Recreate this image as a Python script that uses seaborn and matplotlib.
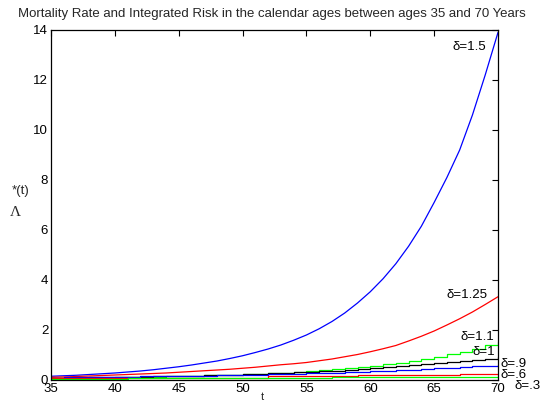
import numpy as np
import pandas as pd
import matplotlib
matplotlib.use("Agg")
import matplotlib.pyplot as plt
import seaborn as sns

ages = list(range(35, 71))

d150 = [0.15, 0.17, 0.19, 0.22, 0.25, 0.28, 0.32, 0.36, 0.41, 0.47, 0.53, 0.60, 0.68, 0.76,
        0.86, 0.97, 1.10, 1.24, 1.40, 1.59, 1.80, 2.05, 2.34, 2.68, 3.08, 3.53, 4.05, 4.65,
        5.35, 6.15, 7.10, 8.10, 9.20, 10.6, 12.2, 13.9]
d125 = [0.11, 0.12, 0.14, 0.16, 0.18, 0.20, 0.22, 0.24, 0.26, 0.28, 0.31, 0.34, 0.37, 0.40,
        0.43, 0.47, 0.51, 0.56, 0.61, 0.65, 0.70, 0.77, 0.84, 0.93, 1.02, 1.13, 1.25, 1.38,
        1.56, 1.75, 1.96, 2.20, 2.45, 2.72, 3.02, 3.33]
d110 = [0.06, 0.07, 0.08, 0.09, 0.10, 0.11, 0.12, 0.13, 0.14, 0.15, 0.17, 0.18, 0.19, 0.20,
        0.22, 0.24, 0.26, 0.28, 0.30, 0.33, 0.36, 0.39, 0.43, 0.47, 0.52, 0.57, 0.63, 0.69,
        0.76, 0.84, 0.93, 1.03, 1.14, 1.26, 1.39, 1.53]
d100 = [0.08, 0.09, 0.10, 0.11, 0.11, 0.12, 0.13, 0.14, 0.15, 0.16, 0.17, 0.18, 0.19, 0.20,
        0.22, 0.24, 0.26, 0.27, 0.29, 0.31, 0.33, 0.35, 0.38, 0.41, 0.44, 0.47, 0.51, 0.55,
        0.59, 0.64, 0.68, 0.72, 0.76, 0.81, 0.86, 0.92]
d090 = [0.10, 0.11, 0.11, 0.12, 0.13, 0.14, 0.14, 0.15, 0.15, 0.16, 0.17, 0.17, 0.18, 0.19,
        0.20, 0.21, 0.22, 0.23, 0.24, 0.25, 0.27, 0.28, 0.30, 0.31, 0.33, 0.35, 0.37, 0.39,
        0.41, 0.44, 0.47, 0.49, 0.52, 0.55, 0.58, 0.61]
d060 = [0.10, 0.10, 0.10, 0.10, 0.10, 0.10, 0.10, 0.10, 0.10, 0.10, 0.10, 0.10, 0.10, 0.10,
        0.10, 0.10, 0.10, 0.16, 0.16, 0.16, 0.16, 0.16, 0.16, 0.16, 0.20, 0.20, 0.20, 0.20,
        0.20, 0.20, 0.20, 0.20, 0.26, 0.26, 0.26, 0.26]
d030 = [0.05, 0.05, 0.05, 0.06, 0.06, 0.06, 0.07, 0.07, 0.07, 0.08, 0.08, 0.08, 0.08, 0.09,
        0.09, 0.09, 0.09, 0.10, 0.10, 0.10, 0.10, 0.10, 0.11, 0.11, 0.11, 0.11, 0.11, 0.12,
        0.12, 0.12, 0.12, 0.12, 0.13, 0.13, 0.13, 0.13]

series = [("δ=1.5", d150, "#0000ff", False),
          ("δ=1.25", d125, "#ff0000", False),
          ("δ=1.1", d110, "#00ff00", True),
          ("δ=1", d100, "#000000", True),
          ("δ=.9", d090, "#0000ff", True),
          ("δ=.6", d060, "#ff0000", True),
          ("δ=.3", d030, "#00ff00", True)]

label_pos = {"δ=1.5": (66.4, 13.3), "δ=1.25": (66.0, 3.4), "δ=1.1": (67.1, 1.7),
             "δ=1": (68.0, 1.12), "δ=.9": (70.2, 0.65), "δ=.6": (70.2, 0.22),
             "δ=.3": (71.3, -0.25)}

sns.set_theme(style="white")
plt.rcParams["font.family"] = ["Liberation Sans", "DejaVu Sans"]
plt.rcParams["xtick.direction"] = "in"
plt.rcParams["ytick.direction"] = "in"

fig = plt.figure(figsize=(5.44, 4.0), dpi=100)
ax = fig.add_axes([0.0938, 0.05, 0.8216, 0.875])

for name, vals, col, step in series:
    df = pd.DataFrame({"t": ages, "v": vals})
    sns.lineplot(data=df, x="t", y="v", ax=ax, color=col, linewidth=0.9,
                 drawstyle="steps-post" if step else "default", legend=False)

for name, vals, col, step in series:
    x, y = label_pos[name]
    ax.text(x, y, name, fontsize=9.5, ha="left", va="center", color="black", clip_on=False)

ax.set_xlim(35, 70)
ax.set_ylim(0, 14)
ax.set_xticks(range(35, 71, 5))
ax.set_yticks(range(0, 15, 2))
ax.tick_params(axis="both", which="both", direction="in", length=4, width=0.8,
               top=True, right=True, labelsize=9.5, pad=2, colors="black")
for sp in ax.spines.values():
    sp.set_color("black")
    sp.set_linewidth(0.9)
ax.set_xlabel("")
ax.set_ylabel("")

fig.text(0.5, 0.965, "Mortality Rate and Integrated Risk in the calendar ages between ages 35 and 70 Years",
         ha="center", va="center", fontsize=9.5)
fig.text(0.022, 0.522, "*(t)", fontsize=9.5, ha="left", va="center")
fig.text(0.018, 0.468, "Λ", fontsize=11, ha="left", va="center", family=["Liberation Serif", "DejaVu Serif"])
fig.text(0.482, 0.008, "t", fontsize=8, ha="center", va="center")

fig.savefig("out.png", dpi=100)
